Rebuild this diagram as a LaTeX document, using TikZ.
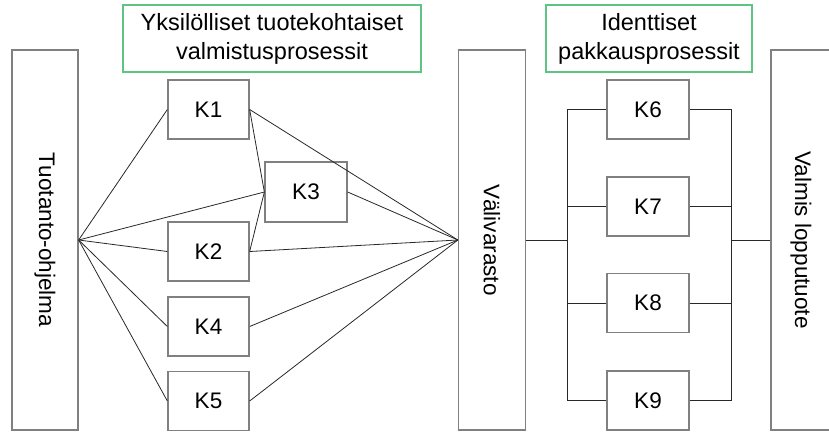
\documentclass[tikz,border=0pt]{standalone}
\usepackage{fontspec}
\setmainfont{Liberation Sans}
\usepackage{tikz}
\usetikzlibrary{positioning}

\definecolor{boxgray}{RGB}{128,128,128}
\definecolor{linegray}{RGB}{40,40,40}
\definecolor{labelgreen}{RGB}{92,197,129}

\begin{document}
\begin{tikzpicture}[x=1pt, y=-1pt,
        every node/.style={font=\fontsize{22.5}{29}\selectfont, inner sep=0pt},
        stage/.style={draw=boxgray, line width=1.3pt, fill=white, minimum width=81pt, minimum height=59pt},
        store/.style={draw=boxgray, line width=1.3pt, minimum width=380pt, rotate=-90},
        title/.style={draw=labelgreen, line width=1.3pt, align=center, font=\fontsize{23.5}{29}\selectfont},
        link/.style={draw=linegray, line width=0.8pt}]
                        \useasboundingbox (0,0) rectangle (829,432);
                        \clip (0,0) rectangle (829,432);
                        % varastot ja ohjelma
                        \node[store, minimum height=66pt] (ohjelma) at (45, 240) {Tuotanto-ohjelma};
                        \node[store, minimum height=67pt] (varasto) at (492, 240) {Välivarasto};
                        \node[store, minimum height=60pt] (valmis) at (801, 240) {Valmis lopputuote};
                        % otsikot
                        \node[title, minimum width=298pt, minimum height=67pt] (yksil) at (272, 38.5) {Yksilölliset tuotekohtaiset\\valmistusprosessit};
                        \node[title, minimum width=206pt, minimum height=67pt] (ident) at (649, 38.5) {Identtiset\\pakkausprosessit};
                        % valmistus
                        \node[stage] (k1) at (208.5, 109.5) {K1};
                        \node[stage, minimum width=82pt, minimum height=60pt] (k3) at (306, 192) {K3};
                        \node[stage] (k2) at (208.5, 251.5) {K2};
                        \node[stage] (k4) at (208.5, 326.5) {K4};
                        \node[stage] (k5) at (208.5, 401) {K5};
                        % pakkaus
                        \node[stage, minimum width=82pt] (k6) at (648, 109.5) {K6};
                        \node[stage, minimum width=82pt] (k7) at (648, 206.5) {K7};
                        \node[stage, minimum width=82pt] (k8) at (648, 303) {K8};
                        \node[stage, minimum width=82pt] (k9) at (648, 400.5) {K9};
                        \coordinate (vasen) at (567, 240);
                        \coordinate (oikea) at (731, 240);
                        \draw[link]
                        (ohjelma.north) edge (k1.west)
                        (ohjelma.north) edge (k3.west)
                        (ohjelma.north) edge (k2.west)
                        (ohjelma.north) edge (k4.west)
                        (ohjelma.north) edge (k5.west)
                        (k1.east) edge (k3.west)
                        (k2.east) edge (k3.west)
                        (k1.east) edge (varasto.south)
                        (k3.east) edge (varasto.south)
                        (k2.east) edge (varasto.south)
                        (k4.east) edge (varasto.south)
                        (k5.east) edge (varasto.south);
                        \draw[link] (varasto.north) -- (vasen);
                        \draw[link] (oikea) -- (valmis.south);
                        \draw[link] (k6.west) -- (k6.west -| vasen) -- (k9.west -| vasen) -- (k9.west);
                        \draw[link] (k6.east) -- (k6.east -| oikea) -- (k9.east -| oikea) -- (k9.east);
                        \draw[link] (k7.west) -- (k7.west -| vasen);
                        \draw[link] (k8.west) -- (k8.west -| vasen);
                        \draw[link] (k7.east) -- (k7.east -| oikea);
                        \draw[link] (k8.east) -- (k8.east -| oikea);
                    \end{tikzpicture}
\end{document}
